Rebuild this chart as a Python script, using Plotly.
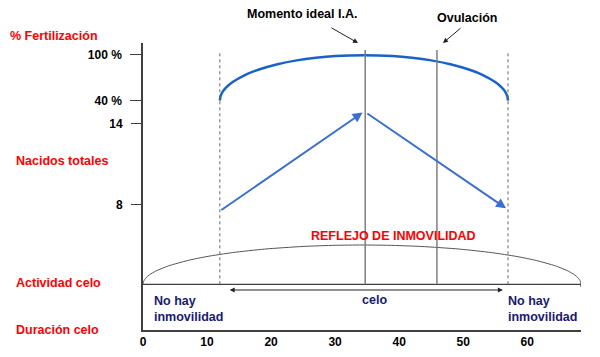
import plotly.graph_objects as go

# ---------------- data ----------------
# % fertilization along the heat (days from onset)
fert_days = [12, 12.1, 12.5, 13, 14, 16, 18, 21, 24, 27, 30, 34.5,
             39, 42, 45, 48, 51, 53, 55, 56, 56.5, 56.9, 57]
fert_pct = [40, 45.6, 52.4, 57.4, 64.3, 73.6, 80.1, 87.2, 92.2, 95.6, 97.8, 99,
            97.8, 95.6, 92.2, 87.2, 80.1, 73.6, 64.3, 57.4, 52.4, 45.6, 40]
fert_ticks = [40, 100]
fert_ticktext = ["40 %", "100 %"]

# total born (nacidos totales): rising then falling segments
born_up_days = [12, 34.3]
born_up_vals = [7.5, 14.8]
born_down_days = [34.8, 56.7]
born_down_vals = [14.8, 7.7]
born_ticks = [8, 14]
born_ticktext = ["8", "14"]

# heat activity (relative intensity)
act_days = [0, 0.1, 0.5, 1, 2, 4, 7, 10, 14, 19, 25, 30, 34.2,
            38.4, 43.4, 49.4, 54.4, 58.4, 61.4, 64.4, 66.4, 67.4, 67.9, 68.3, 68.4, 68.3]
act_vals = [0, 0.076, 0.17, 0.24, 0.337, 0.469, 0.606, 0.707, 0.807, 0.896, 0.963, 0.992, 1,
            0.992, 0.963, 0.896, 0.807, 0.707, 0.606, 0.469, 0.337, 0.24, 0.17, 0.076, 0, -0.06]

# event days
dashed_days = [12, 57]
ideal_ai_day = 34.7
ovulation_day = 45.9
heat_span = [13.3, 56.2]

x_ticks = [0, 10, 20, 30, 40, 50, 60]

# ---------------- figure ----------------
FONT = "Arial, Liberation Sans, sans-serif"
RED = "#FF0000"
NAVY = "#1A1A70"
AXIS = "#404040"

fig = go.Figure()

fig.add_trace(go.Scatter(x=fert_days, y=fert_pct, mode="lines", yaxis="y",
                         line=dict(color="#1A62C8", width=2.5, shape="spline", smoothing=0.6),
                         cliponaxis=False, hoverinfo="skip", showlegend=False))

fig.add_trace(go.Scatter(x=act_days, y=act_vals, mode="lines", yaxis="y3",
                         line=dict(color="#555555", width=1, shape="spline", smoothing=0.6),
                         cliponaxis=False, hoverinfo="skip", showlegend=False))

shapes = []
# heat activity baseline
shapes.append(dict(type="line", xref="x", yref="y3", x0=0, x1=68.4, y0=0, y1=0,
                   line=dict(color=AXIS, width=1.2)))
for d in dashed_days:
    shapes.append(dict(type="line", xref="x", yref="y3", x0=d, x1=d, y0=0, y1=5.936,
                       line=dict(color="#666666", width=1, dash="3px,3px")))
for d in [ideal_ai_day, ovulation_day]:
    shapes.append(dict(type="line", xref="x", yref="y3", x0=d, x1=d, y0=0, y1=5.962,
                       line=dict(color="#7F7F7F", width=1.5)))

annotations = []
ARROW_BLUE = "#3B6FD0"
for xs, ys in [(born_up_days, born_up_vals), (born_down_days, born_down_vals)]:
    annotations.append(dict(x=xs[1], y=ys[1], ax=xs[0], ay=ys[0], xref="x", yref="y2",
                            axref="x", ayref="y2", text="", showarrow=True,
                            arrowhead=2, arrowsize=1, arrowwidth=2, arrowcolor=ARROW_BLUE,
                            standoff=0, startstandoff=0))

# heat duration double arrow
annotations.append(dict(x=heat_span[1], y=-0.145, ax=heat_span[0], ay=-0.145,
                        xref="x", yref="y3", axref="x", ayref="y3", text="",
                        showarrow=True, arrowhead=2, arrowside="end+start",
                        arrowsize=1, arrowwidth=1, arrowcolor="#222222"))

LAB_SIZE = 12.5


def lab(text, x, y, color, xanchor="left", yanchor="middle", align="left"):
    annotations.append(dict(text=text, x=x, y=y, xref="paper", yref="paper",
                            xanchor=xanchor, yanchor=yanchor, align=align,
                            showarrow=False, borderpad=0,
                            font=dict(family=FONT, size=LAB_SIZE, color=color, weight="bold")))


def px(x):
    return (x - 143) / 438


def py(y):
    return (330 - y) / 287


lab("% Fertilización", px(9), py(36), RED)
lab("Nacidos totales", px(15), py(161), RED)
lab("Actividad celo", px(15), py(283), RED)
lab("Duración celo", px(15), py(329.5), RED)
lab("REFLEJO DE INMOVILIDAD", px(393), py(236), RED, xanchor="center")
lab("No hay<br>inmovilidad", px(153), py(308.5), NAVY)
lab("No hay<br>inmovilidad", px(507), py(308.5), NAVY)
lab("celo", px(374), py(300), NAVY, xanchor="center")
lab("Momento ideal I.A.", px(301.5), py(14), "#000000", xanchor="center")
lab("Ovulación", px(466.5), py(18.5), "#000000", xanchor="center")

# pointer arrows for the event labels
annotations.append(dict(x=px(358), y=py(43), xref="paper", yref="paper", ax=-28, ay=-16,
                        text="", showarrow=True, arrowhead=2, arrowsize=1, arrowwidth=1,
                        arrowcolor="#222222"))
annotations.append(dict(x=px(443), y=py(43), xref="paper", yref="paper", ax=19, ay=-16,
                        text="", showarrow=True, arrowhead=2, arrowsize=1, arrowwidth=1,
                        arrowcolor="#222222"))

tickfont = dict(family=FONT, size=12, color="#000000", weight="bold")

fig.update_layout(
    template="none",
    width=600, height=357,
    margin=dict(l=143, r=19, t=43, b=27, pad=0, autoexpand=False),
    paper_bgcolor="white", plot_bgcolor="white",
    showlegend=False,
    shapes=shapes, annotations=annotations,
    xaxis=dict(range=[0, 68.4], tickvals=x_ticks, showgrid=False, zeroline=False,
               showline=True, linecolor=AXIS, linewidth=1.5, ticks="", automargin=False,
               tickfont=tickfont, ticklabelstandoff=0),
    yaxis=dict(range=[-256.6, 114.7], tickvals=fert_ticks, ticktext=fert_ticktext,
               showgrid=False, zeroline=False, showline=True, linecolor=AXIS, linewidth=1.5,
               ticks="outside", ticklen=11, tickwidth=1.2, tickcolor=AXIS, automargin=False,
               tickfont=tickfont, ticklabelstandoff=6),
    yaxis2=dict(range=[-1.31, 19.95], overlaying="y", side="left", anchor="x",
                tickvals=born_ticks, ticktext=born_ticktext, showgrid=False, zeroline=False,
                showline=False, ticks="outside", ticklen=11, tickwidth=1.2, tickcolor=AXIS,
                automargin=False, tickfont=tickfont, ticklabelstandoff=6),
    yaxis3=dict(range=[-1.163, 6.140], overlaying="y", visible=False, automargin=False),
)

fig.write_html("out.html", config={"displayModeBar": False},
               post_script="document.body.style.margin='0';document.body.style.padding='0';")
